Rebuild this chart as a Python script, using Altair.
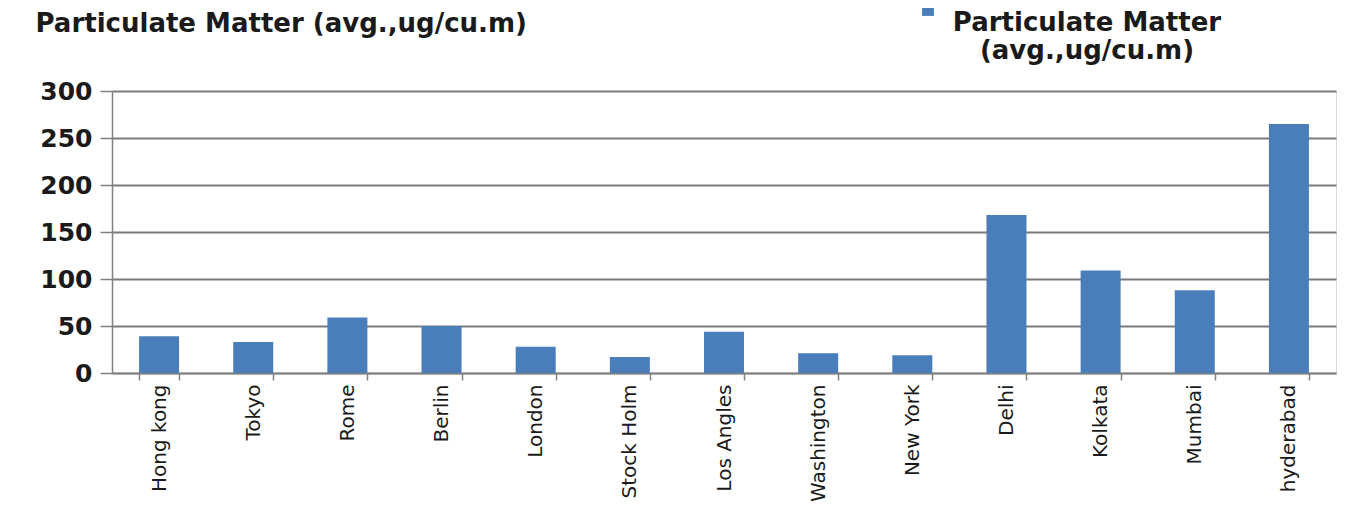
import altair as alt
import pandas as pd

cities = ["Hong kong", "Tokyo", "Rome", "Berlin", "London", "Stock Holm",
          "Los Angles", "Washington", "New York", "Delhi", "Kolkata", "Mumbai", "hyderabad"]
pm_values = [39, 33, 59, 50, 28, 17, 44, 21, 19, 168, 109, 88, 265]
series_name = "Particulate Matter (avg.,ug/cu.m)"
chart_title = "Particulate Matter (avg.,ug/cu.m)"
y_ticks = [0, 50, 100, 150, 200, 250, 300]

df = pd.DataFrame({"city": cities, "value": pm_values, "series": series_name})

FONT = "DejaVu Sans"

chart = alt.Chart(df).mark_bar(color="#4a7ebb").encode(
    x=alt.X("city:N", sort=cities,
            scale=alt.Scale(paddingInner=0.575, paddingOuter=0.2875),
            axis=alt.Axis(title=None, labelAngle=-90, labelFont=FONT, labelFontSize=20,
                          labelColor="#1a1a1a", labelPadding=4, tickBand="extent",
                          tickColor="#808080", tickSize=7, tickWidth=1.5,
                          domainColor="#808080", domainWidth=1.5, grid=False,
                          labelLimit=300)),
    y=alt.Y("value:Q", scale=alt.Scale(domain=[0, 300], nice=False),
            axis=alt.Axis(title=chart_title, titleX=-77, titleY=-60, titleAngle=0,
                          titleAlign="left", titleBaseline="alphabetic",
                          titleFont=FONT, titleFontSize=26, titleFontWeight="bold",
                          titleColor="#1a1a1a",
                          values=y_ticks, labelFont=FONT, labelFontSize=25,
                          labelFontWeight="bold", labelColor="#1a1a1a", labelPadding=8,
                          tickColor="#808080", tickSize=12, tickWidth=1.5,
                          domainColor="#808080", domainWidth=1.5,
                          grid=True, gridColor="#7a7a7a", gridWidth=2)),
    color=alt.Color("series:N", scale=alt.Scale(range=["#4a7ebb"]),
                    legend=alt.Legend(title=None, orient="none", legendX=803, legendY=-94,
                                      symbolType="square", symbolSize=140,
                                      symbolStrokeWidth=0, padding=0,
                                      labelFont=FONT, labelFontSize=26, labelFontWeight="bold",
                                      labelColor="#1a1a1a", labelLimit=600,
                                      labelExpr="split(replace(datum.label, ' (', '|('), '|')",
                                      labelBaseline="top", labelAlign="center",
                                      labelOffset=146)),
).properties(
    width=1224,
    height=282,
    autosize=alt.AutoSizeParams(type="none"),
    padding={"left": 104, "top": 83, "right": 18, "bottom": 139},
).configure_view(stroke=None).configure(background="white")

chart.save("out.html", embed_options={"renderer": "svg", "actions": False})
